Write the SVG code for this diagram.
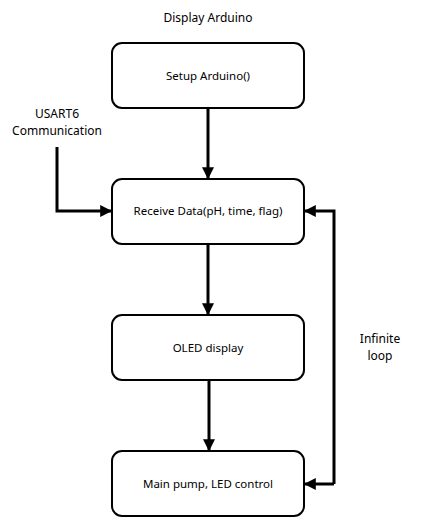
<svg xmlns="http://www.w3.org/2000/svg" width="437" height="530" viewBox="0 0 437 530">
<style>
.box{fill:#fff;stroke:#000;stroke-width:2}
.lbl{font-family:"Noto Sans","Open Sans",sans-serif;font-size:11.5px;fill:#000;text-anchor:middle}
.txt{font-family:"Noto Sans","Open Sans",sans-serif;font-size:12px;fill:#000;text-anchor:middle}
.con{fill:none;stroke:#000;stroke-width:3}
</style>
<defs>
<marker id="ah" markerWidth="4" markerHeight="4" refX="3.6" refY="2" orient="auto" markerUnits="strokeWidth">
<path d="M0,0 L4,2 L0,4 Z" fill="#000"/>
</marker>
</defs>
<rect width="437" height="530" fill="#fff"/>
<text class="txt" x="208" y="22">Display Arduino</text>
<g id="connectors">
<path class="con" d="M208,108 V178" marker-end="url(#ah)"/>
<path class="con" d="M208,244 V314" marker-end="url(#ah)"/>
<path class="con" d="M209,380 V450" marker-end="url(#ah)"/>
<path class="con" d="M57,147 V211 H111" marker-end="url(#ah)"/>
<path class="con" d="M334,484 V211 H305" marker-end="url(#ah)"/>
<path class="con" d="M334,484 H305" marker-end="url(#ah)"/>
</g>
<g id="n-usart"><text class="txt" x="57" y="118">USART6</text><text class="txt" x="57" y="135">Communication</text></g>
<g id="n-loop"><text class="txt" x="380" y="343">Infinite</text><text class="txt" x="380" y="360">loop</text></g>
<g id="n-setup"><rect class="box" x="112" y="43" width="192" height="65" rx="10"/><text class="lbl" x="208" y="80">Setup Arduino()</text></g>
<g id="n-receive"><rect class="box" x="112" y="179" width="192" height="65" rx="10"/><text class="lbl" x="208" y="215">Receive Data(pH, time, flag)</text></g>
<g id="n-oled"><rect class="box" x="112" y="315" width="192" height="65" rx="10"/><text class="lbl" x="208" y="352">OLED display</text></g>
<g id="n-main"><rect class="box" x="112" y="451" width="192" height="65" rx="10"/><text class="lbl" x="208" y="488">Main pump, LED control</text></g>
</svg>
